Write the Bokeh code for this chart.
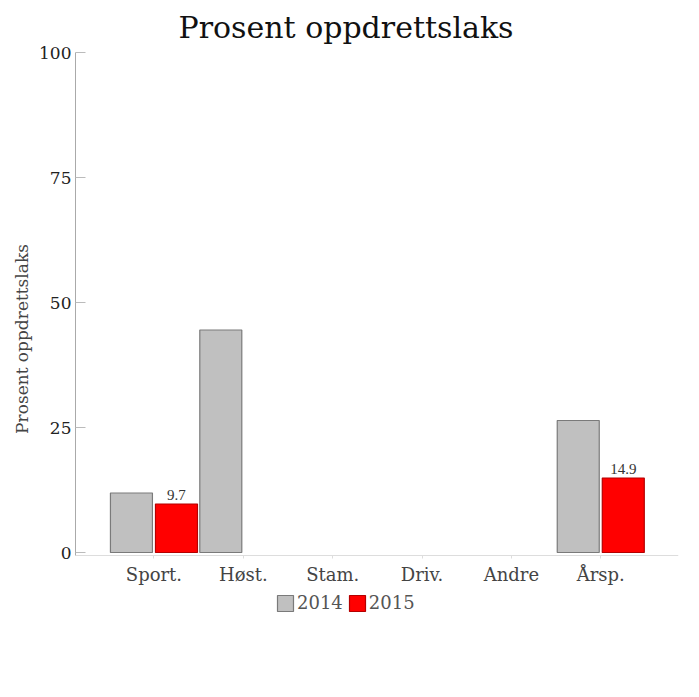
from bokeh.plotting import figure
from bokeh.models import (Range1d, FixedTicker, ColumnDataSource, LabelSet,
                          Legend, LegendItem)
from bokeh.embed import file_html
from bokeh.resources import INLINE

nan = float("nan")
categories = ["Sport.", "Høst.", "Stam.", "Driv.", "Andre", "Årsp."]
values_2014 = [11.9, 44.5, nan, nan, nan, 26.4]
values_2015 = [9.7, nan, nan, nan, nan, 14.9]
label_2015 = ["9.7", "", "", "", "", "14.9"]
y_ticks = [0, 25, 50, 75, 100]
title_text = "Prosent oppdrettslaks"
y_label = "Prosent oppdrettslaks"
series_names = ["2014", "2015"]

FONT = "DejaVu Serif"

idx = list(range(len(categories)))
x14 = [i - 0.252 for i in idx]
x15 = [i + 0.252 for i in idx]

p = figure(frame_width=603, frame_height=573, output_backend="svg",
           toolbar_location=None,
           x_range=Range1d(-0.878, 5.87), y_range=Range1d(-14.6, 100),
           min_border_left=75, min_border_top=52, min_border_right=12,
           min_border_bottom=0)
p.outline_line_color = None
p.xgrid.grid_line_color = None
p.ygrid.grid_line_color = None
p.background_fill_color = "white"
p.border_fill_color = "white"

p.title.text = title_text
p.title.text_font = FONT
p.title.text_font_size = "30px"
p.title.text_font_style = "normal"
p.title.text_color = "#111111"
p.title.align = "left"
p.title.offset = 103
p.title.standoff = 15

s14 = ColumnDataSource(dict(x=x14, top=values_2014))
s15 = ColumnDataSource(dict(x=x15, top=values_2015, lab=label_2015))
r14 = p.vbar(x="x", top="top", bottom=0, width=0.47, source=s14,
             fill_color="#c0c0c0", line_color="#7a7a7a", line_width=1.2)
r15 = p.vbar(x="x", top="top", bottom=0, width=0.47, source=s15,
             fill_color="#ff0000", line_color="#b40000", line_width=1.2)

labels = LabelSet(x="x", y="top", text="lab", source=s15, y_offset=4,
                  text_align="center", text_baseline="bottom",
                  text_font=FONT, text_font_size="15px", text_color="#333333")
p.add_layout(labels)

# x axis (placed just below zero)
p.xaxis.fixed_location = -0.6
p.xaxis.ticker = FixedTicker(ticks=idx)
p.xaxis.major_label_overrides = {i: c for i, c in zip(idx, categories)}
p.xaxis.major_label_text_font = FONT
p.xaxis.major_label_text_font_size = "18px"
p.xaxis.major_label_text_color = "#444444"
p.xaxis.axis_line_color = "#dddddd"
p.xaxis.major_tick_line_color = "#dddddd"
p.xaxis.major_tick_out = 3
p.xaxis.major_tick_in = 0
p.xaxis.minor_tick_line_color = None
p.xaxis.major_label_standoff = 5

# y axis
p.yaxis.bounds = (-0.6, 100)
p.yaxis.ticker = FixedTicker(ticks=y_ticks)
p.yaxis.major_label_text_font = FONT
p.yaxis.major_label_text_font_size = "17px"
p.yaxis.major_label_text_color = "#222222"
p.yaxis.axis_line_color = "#aaaaaa"
p.yaxis.major_tick_line_color = "#bbbbbb"
p.yaxis.major_tick_in = 10
p.yaxis.major_tick_out = 0
p.yaxis.minor_tick_line_color = None
p.yaxis.major_label_standoff = 4
p.yaxis.axis_label = y_label
p.yaxis.axis_label_text_font = FONT
p.yaxis.axis_label_text_font_size = "17px"
p.yaxis.axis_label_text_font_style = "normal"
p.yaxis.axis_label_text_color = "#444444"
p.yaxis.axis_label_standoff = 4

legend = Legend(items=[LegendItem(label=series_names[0], renderers=[r14]),
                       LegendItem(label=series_names[1], renderers=[r15])],
                orientation="horizontal", location=(200, 12),
                padding=0, margin=0, spacing=4, label_standoff=2,
                glyph_width=20, glyph_height=20,
                label_text_font=FONT, label_text_font_size="18px",
                label_text_color="#555555", border_line_color=None,
                background_fill_alpha=0)
p.add_layout(legend, "center")

open("out.html", "w").write(file_html(p, INLINE))
